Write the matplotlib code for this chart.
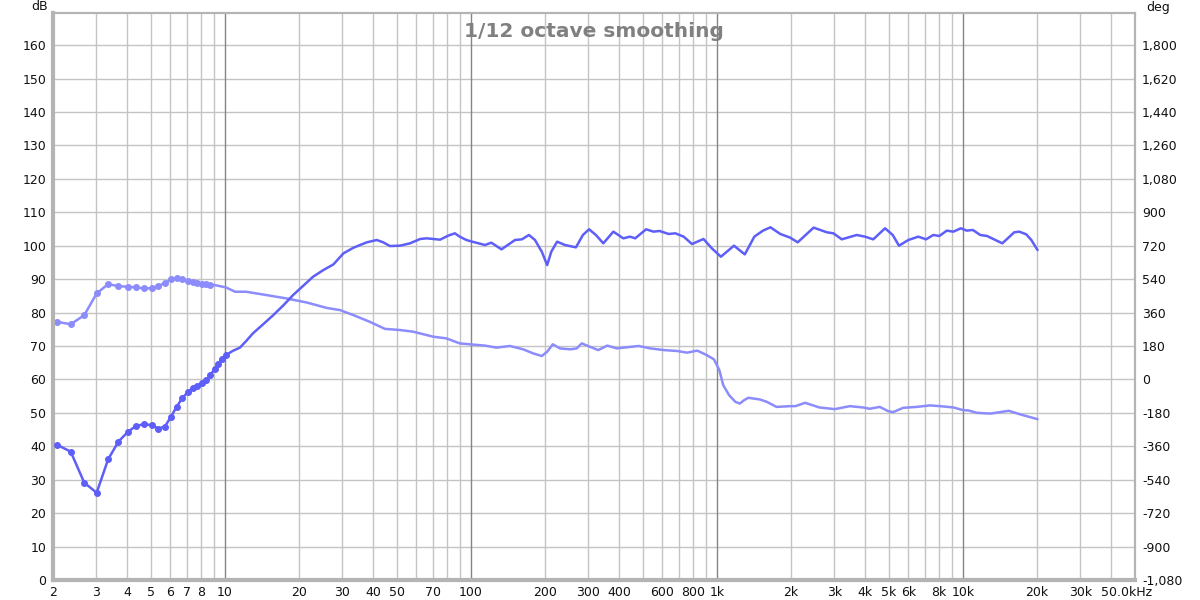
import matplotlib
matplotlib.use("Agg")
import matplotlib.pyplot as plt
import matplotlib.transforms as mtransforms

# ---------------- data ----------------
# low-frequency measured points (shown with markers)
low_freq = [2.08, 2.36, 2.68, 3.01, 3.35, 3.69, 4.03, 4.35, 4.70, 5.04, 5.36, 5.70,
            6.03, 6.36, 6.72, 7.09, 7.40, 7.70, 8.10, 8.40, 8.70, 9.07, 9.40, 9.70, 10.1]
low_mag = [40.4, 38.4, 29.1, 26.1, 36.1, 41.4, 44.3, 46.1, 46.6, 46.3, 45.3, 45.9,
           48.8, 51.8, 54.5, 56.3, 57.5, 58.1, 58.8, 59.8, 61.3, 63.0, 64.6, 66.1, 67.3]
low_phase = [310, 297, 346, 463, 513, 502, 499, 495, 490, 491, 502, 520,
             538, 544, 538, 529, 522, 517, 513, 513, 511, 508, 504, 500, 495]

# magnitude curve above 10 Hz (dB)
mag_freq = [10.8, 11.5, 12.2, 13.0, 14.3, 15.7, 17.3, 18.9, 20.8, 22.8, 25.1, 27.6,
            30.3, 33.3, 37.7, 41.4, 44.0, 46.8, 51.4, 56.5, 62.1, 66.0, 74.9, 80.8,
            86.0, 90.0, 95.8, 100, 114, 121, 133, 151, 161, 172, 182, 194, 204, 212,
            224, 241, 267, 285, 302, 322, 345, 379, 416, 443, 465, 515, 552, 584,
            636, 677, 732, 791, 881, 953, 1037, 1172, 1297, 1418, 1537, 1649, 1808,
            1985, 2127, 2470, 2796, 2972, 3215, 3697, 3994, 4316, 4819, 5179, 5490,
            5994, 6578, 7073, 7571, 8010, 8587, 9138, 9795, 10360, 10960, 11750,
            12520, 14440, 16150, 16930, 18060, 18950, 20080]
mag_db = [68.6, 69.5, 71.5, 73.8, 76.5, 79.2, 82.2, 85.2, 88.0, 90.7, 92.7, 94.4,
          97.7, 99.4, 101.0, 101.7, 101.0, 99.9, 100.0, 100.7, 102.0, 102.2, 101.8, 103.0,
          103.7, 102.7, 101.7, 101.3, 100.2, 100.9, 98.9, 101.7, 101.9, 103.2, 101.7, 98.2, 94.2, 98.2,
          101.2, 100.2, 99.5, 103.2, 104.9, 103.2, 100.7, 104.2, 102.2, 102.7, 102.2, 104.9, 104.2, 104.4,
          103.5, 103.7, 102.7, 100.5, 102.0, 99.2, 96.7, 100.0, 97.4, 102.7, 104.5, 105.5, 103.5,
          102.4, 101.0, 105.4, 104.0, 103.7, 101.9, 103.2, 102.7, 101.9, 105.2, 103.2, 100.0,
          101.7, 102.7, 101.9, 103.2, 102.9, 104.5, 104.2, 105.2, 104.5, 104.7, 103.2,
          102.9, 100.7, 104.0, 104.2, 103.4, 101.7, 98.7]

# phase curve above 10 Hz (degrees)
ph_freq = [11.0, 12.2, 14.3, 17.8, 21.5, 25.9, 29.4, 33.3, 38.8, 44.7, 51.4, 58.2,
           70.2, 79.4, 90, 98.9, 114, 127, 144, 163, 179, 194, 204, 215, 230, 253,
           269, 282, 304, 329, 358, 391, 430, 480, 536, 607, 688, 756, 831, 908,
           972, 1022, 1060, 1120, 1188, 1238, 1288, 1340, 1494, 1595, 1745, 1985,
           2082, 2280, 2607, 3010, 3465, 3920, 4170, 4590, 4960, 5200, 5710, 6480,
           7340, 8060, 9140, 10030, 10500, 11380, 12920, 15340, 17150, 20080]
ph_deg = [472, 472, 457, 436, 414, 385, 373, 346, 310, 272, 266, 257,
          230, 221, 194, 189, 182, 171, 180, 162, 140, 126, 149, 189, 167, 162,
          167, 194, 176, 158, 182, 167, 173, 180, 167, 158, 153, 144, 155, 131,
          108, 50, -31, -85, -121, -130, -112, -99, -108, -121, -148, -144,
          -144, -126, -151, -160, -144, -151, -158, -148, -171, -176, -153, -148,
          -140, -144, -151, -166, -167, -180, -184, -169, -189, -214]

x_ticks = [2, 3, 4, 5, 6, 7, 8, 10, 20, 30, 40, 50, 70, 100, 200, 300, 400, 600, 800,
           1000, 2000, 3000, 4000, 5000, 6000, 8000, 10000, 20000, 30000, 50000]
x_labels = ["2", "3", "4", "5", "6", "7", "8", "10", "20", "30", "40", "50", "70", "100",
            "200", "300", "400", "600", "800", "1k", "2k", "3k", "4k", "5k", "6k", "8k",
            "10k", "20k", "30k", "50.0kHz"]
db_ticks = list(range(0, 161, 10))
deg_ticks = list(range(-1080, 1801, 180))
title_text = "1/12 octave smoothing"

# ---------------- figure ----------------
MAG_C = "#5e5ef8"
PH_C = "#8c8cfc"
GRID_C = "#c4c4c4"
DEC_C = "#858585"

fig = plt.figure(figsize=(12, 6), dpi=100)
rect = [53 / 1200, 20 / 600, (1135 - 53) / 1200, (580 - 13) / 600]
ax2 = fig.add_axes(rect)          # phase axis (drawn underneath)
ax = fig.add_axes(rect)           # dB axis (on top)
YMAX = 169.6

for a in (ax, ax2):
    a.set_xscale("log")
    a.set_xlim(2, 50000)
    a.xaxis.set_minor_locator(matplotlib.ticker.NullLocator())
ax.set_ylim(0, YMAX)
ax2.set_ylim(-1080, -1080 + 18 * YMAX)
ax.patch.set_visible(False)

# grid on the bottom axis
for dec in [1, 10, 100, 1000, 10000]:
    for m in range(1, 10):
        f = dec * m
        if f <= 2 or f >= 50000:
            continue
        if m == 1:
            ax2.axvline(f, color=DEC_C, lw=1.0, zorder=1)
        else:
            ax2.axvline(f, color=GRID_C, lw=1.0, zorder=0.5)
for y in db_ticks[1:]:
    ax2.axhline(-1080 + 18 * y, color=GRID_C, lw=1.0, zorder=0.5)

ax.set_xticks(x_ticks)
ax.set_xticklabels(x_labels)
ax.set_yticks(db_ticks)
ax.set_yticklabels([str(v) for v in db_ticks])
ax.tick_params(axis="both", length=0, labelsize=9, colors="#111111")
ax.tick_params(axis="x", pad=4)
ax.tick_params(axis="y", pad=5)

lbls = ax.get_xticklabels()
off = mtransforms.ScaledTranslation(-8 / 100, 0, fig.dpi_scale_trans)
lbls[-1].set_transform(lbls[-1].get_transform() + off)

ax2.set_xticks([])
ax2.yaxis.tick_right()
ax2.set_yticks(deg_ticks)
ax2.set_yticklabels([f"{v:,}" for v in deg_ticks])
ax2.tick_params(axis="y", length=0, labelsize=9, colors="#111111", pad=5)

# curves
ax2.plot(low_freq + ph_freq, low_phase + ph_deg, color=PH_C, lw=1.8, zorder=3,
         solid_joinstyle="round", solid_capstyle="round")
ax2.plot(low_freq[:21], low_phase[:21], "o", color=PH_C, ms=4, zorder=3)
ax.plot(low_freq + mag_freq, low_mag + mag_db, color=MAG_C, lw=1.8, zorder=4,
        solid_joinstyle="round", solid_capstyle="round")
ax.plot(low_freq, low_mag, "o", color=MAG_C, ms=4, zorder=4)

for a in (ax, ax2):
    for s in a.spines.values():
        s.set_color("#b4b4b4")
        s.set_linewidth(1.5)
ax.spines["left"].set_linewidth(3)
ax.spines["bottom"].set_linewidth(3)

ax.text(0.5, 0.985, title_text, transform=ax.transAxes, ha="center", va="top",
        fontsize=14.5, fontweight="bold", color="#808080", zorder=6)
fig.text(40 / 1200, 1 - 6 / 600, "dB", ha="center", va="center", fontsize=9, color="#111111")
fig.text(1158 / 1200, 1 - 7 / 600, "deg", ha="center", va="center", fontsize=9, color="#111111")

fig.savefig("out.png", dpi=100)
